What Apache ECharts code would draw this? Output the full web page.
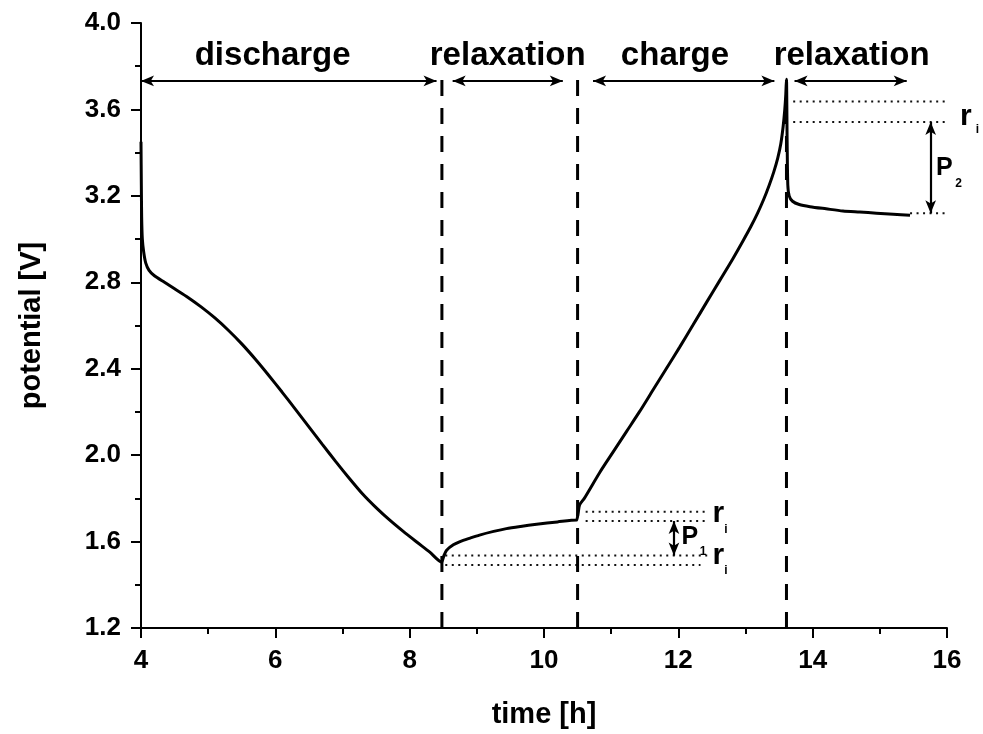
<!DOCTYPE html>
<html>
<head>
<meta charset="utf-8">
<script src="https://cdn.jsdelivr.net/npm/echarts@6/dist/echarts.min.js"></script>
<style>
html,body{margin:0;padding:0;background:#fff;}
#chart{width:983px;height:734px;}
</style>
</head>
<body>
<div id="chart"></div>
<script>
// ---- data (time in h, potential in V) ----
const dischargeTime = [4.00, 4.005, 4.01, 4.02, 4.04, 4.07, 4.12, 4.20, 4.35, 4.50, 4.70, 4.90, 5.10, 5.30, 5.50, 5.70, 5.90, 6.10, 6.30, 6.50, 6.70, 6.90, 7.10, 7.30, 7.50, 7.70, 7.90, 8.10, 8.30, 8.48];
const dischargeV    = [3.45, 3.25, 3.10, 3.00, 2.94, 2.89, 2.855, 2.83, 2.80, 2.77, 2.73, 2.685, 2.635, 2.578, 2.515, 2.445, 2.37, 2.292, 2.212, 2.131, 2.05, 1.97, 1.893, 1.82, 1.757, 1.70, 1.648, 1.599, 1.551, 1.505];
const relax1Time = [8.49, 8.51, 8.55, 8.65, 8.75, 8.90, 9.04, 9.25, 9.44, 9.65, 9.89, 10.20, 10.49];
const relax1V    = [1.505, 1.535, 1.56, 1.585, 1.60, 1.616, 1.63, 1.647, 1.66, 1.67, 1.68, 1.691, 1.70];
const chargeTime = [10.50, 10.51, 10.53, 10.60, 10.83, 11.03, 11.23, 11.42, 11.62, 11.82, 12.02, 12.22, 12.42, 12.62, 12.81, 12.96, 13.08, 13.18, 13.27, 13.35, 13.42, 13.48, 13.525, 13.56, 13.585, 13.60, 13.61];
const chargeV    = [1.70, 1.735, 1.77, 1.80, 1.92, 2.015, 2.11, 2.20, 2.30, 2.40, 2.50, 2.603, 2.707, 2.81, 2.908, 2.99, 3.058, 3.12, 3.183, 3.247, 3.31, 3.375, 3.44, 3.52, 3.60, 3.67, 3.74];
const relax2Time = [13.62, 13.63, 13.65, 13.70, 13.80, 13.96, 14.20, 14.45, 14.70, 14.95, 15.20, 15.45];
const relax2V    = [3.45, 3.25, 3.20, 3.175, 3.16, 3.15, 3.14, 3.13, 3.125, 3.12, 3.115, 3.11];

const xTicks = [4, 6, 8, 10, 12, 14, 16];
const yTicks = [1.2, 1.6, 2.0, 2.4, 2.8, 3.2, 3.6, 4.0];

// phase boundaries (h) and their labels
const phaseBoundaries = [8.48, 10.50, 13.61];
const boundaryTopV = 3.74;
const phaseNames = ['discharge', 'relaxation', 'charge', 'relaxation'];
const phaseSpans = [[4.0, 8.40], [8.64, 10.28], [10.73, 13.43], [13.73, 15.40]];

// internal-resistance (ri) drop levels and polarisation levels (V)
const riLevelsLow  = [1.492, 1.535];   // after discharge
const riLevelsMid  = [1.695, 1.738];   // before charge
const riLevelsHigh = [3.542, 3.637];   // after charge
const p2Level = 3.119;

// ---- layout (annotation placement in data units) ----
const labelRowV = 3.848, arrowRowV = 3.732;
const phaseLabelX = [5.96, 9.46, 11.95, 14.58];

const allTime = [].concat(dischargeTime, relax1Time, chargeTime, relax2Time);
const allV = [].concat(dischargeV, relax1V, chargeV, relax2V);
const curve = allTime.map((t, i) => [t, allV[i]]);

const FONT = '"Liberation Sans", Arial, Helvetica, sans-serif';
const black = '#000';

const dotted = [
  {from: [8.53, riLevelsLow[0]], to: [12.33, riLevelsLow[0]]},
  {from: [8.53, riLevelsLow[1]], to: [12.43, riLevelsLow[1]]},
  {from: [10.62, riLevelsMid[0]], to: [12.43, riLevelsMid[0]]},
  {from: [10.62, riLevelsMid[1]], to: [12.43, riLevelsMid[1]]},
  {from: [13.71, riLevelsHigh[0]], to: [16.16, riLevelsHigh[0]]},
  {from: [13.71, riLevelsHigh[1]], to: [16.16, riLevelsHigh[1]]},
  {from: [15.45, p2Level], to: [16.16, p2Level]}
];

const textItems = [];
phaseNames.forEach((n, i) => textItems.push({text: n, x: phaseLabelX[i], y: labelRowV, size: 33}));
[
  {text: 'P', x: 12.173, y: 1.620, size: 25},
  {text: '1', x: 12.367, y: 1.551, size: 12},
  {text: 'r', x: 12.597, y: 1.730, size: 30},
  {text: 'i', x: 12.709, y: 1.657, size: 12},
  {text: 'r', x: 12.597, y: 1.536, size: 30},
  {text: 'i', x: 12.709, y: 1.465, size: 12},
  {text: 'P', x: 15.962, y: 3.329, size: 25},
  {text: '2', x: 16.171, y: 3.257, size: 12},
  {text: 'r', x: 16.282, y: 3.566, size: 30},
  {text: 'i', x: 16.453, y: 3.506, size: 12}
].forEach(d => textItems.push(d));

const arrowLines = phaseSpans.map(s => [{coord: [s[0], arrowRowV]}, {coord: [s[1], arrowRowV]}]);
arrowLines.push([{coord: [11.935, riLevelsMid[0]]}, {coord: [11.935, riLevelsLow[1]]}]);
arrowLines.push([{coord: [15.757, riLevelsHigh[0]]}, {coord: [15.757, p2Level]}]);

const series = [];
series.push({
  type: 'line',
  data: curve,
  showSymbol: false,
  smooth: 0.25,
  lineStyle: {color: black, width: 3},
  silent: true,
  z: 5,
  markLine: {
    silent: true,
    symbol: ['arrow', 'arrow'],
    symbolSize: [8, 13],
    label: {show: false},
    lineStyle: {color: black, width: 2.2, type: 'solid'},
    emphasis: {disabled: true},
    data: arrowLines
  }
});
phaseBoundaries.forEach(b => series.push({
  type: 'line',
  data: [[b, yTicks[0]], [b, boundaryTopV]],
  showSymbol: false,
  silent: true,
  clip: false,
  lineStyle: {color: black, width: 3, type: [16, 12]},
  z: 3
}));
dotted.forEach(d => series.push({
  type: 'line',
  data: [d.from, d.to],
  showSymbol: false,
  silent: true,
  clip: false,
  lineStyle: {color: '#111', width: 2, type: [2, 4.5]},
  z: 2
}));
series.push({
  type: 'custom',
  silent: true,
  clip: false,
  data: textItems.map(d => [d.x, d.y]),
  renderItem: function (params, api) {
    const d = textItems[params.dataIndex];
    const p = api.coord([d.x, d.y]);
    return {
      type: 'text',
      x: p[0], y: p[1],
      style: {
        text: d.text,
        fill: black,
        font: 'bold ' + d.size + 'px ' + FONT,
        align: 'center',
        verticalAlign: 'middle'
      }
    };
  },
  z: 10
});

const axisCommon = {
  type: 'value',
  axisLine: {show: true, onZero: false, lineStyle: {color: black, width: 2}},
  axisTick: {show: true, inside: false, length: 10, lineStyle: {color: black, width: 2}},
  minorTick: {show: true, splitNumber: 2, length: 6, lineStyle: {color: black, width: 2}},
  splitLine: {show: false},
  nameLocation: 'middle',
  nameTextStyle: {fontFamily: FONT, fontWeight: 'bold', fontSize: 29, color: black}
};

const chart = echarts.init(document.getElementById('chart'), null, {renderer: 'canvas'});
chart.setOption({
  animation: false,
  backgroundColor: '#fff',
  grid: {left: 141, right: 36, top: 23, bottom: 104, containLabel: false},
  xAxis: Object.assign({}, axisCommon, {
    min: xTicks[0], max: xTicks[xTicks.length - 1], interval: xTicks[1] - xTicks[0],
    name: 'time [h]', nameGap: 72,
    axisLabel: {margin: 20, fontFamily: FONT, fontWeight: 'bold', fontSize: 26, color: black}
  }),
  yAxis: Object.assign({}, axisCommon, {
    min: yTicks[0], max: yTicks[yTicks.length - 1], interval: 0.4,
    name: 'potential [V]', nameGap: 95,
    axisLabel: {margin: 20, fontFamily: FONT, fontWeight: 'bold', fontSize: 26, color: black,
      formatter: v => v.toFixed(1)}
  }),
  series: series
});
</script>
</body>
</html>
